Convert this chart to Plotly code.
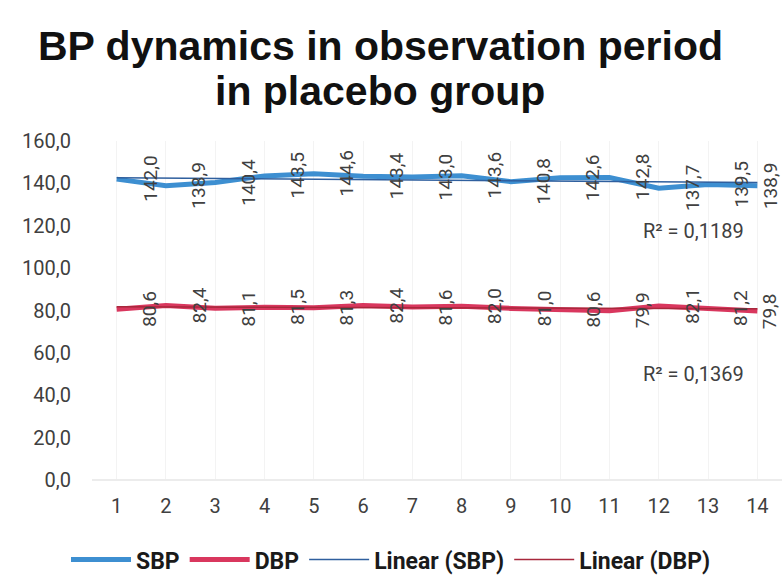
import numpy as np
import plotly.graph_objects as go

# Data
days = list(range(1, 15))
sbp = [142.0, 138.9, 140.4, 143.5, 144.6, 143.4, 143.0, 143.6, 140.8, 142.6, 142.8, 137.7, 139.5, 138.9]
dbp = [80.6, 82.4, 81.1, 81.5, 81.3, 82.4, 81.6, 82.0, 81.0, 80.6, 79.9, 82.1, 81.2, 79.8]
r2_sbp = "R² = 0,1189"
r2_dbp = "R² = 0,1369"
title_lines = ["BP dynamics in observation period", "in placebo group"]

# Linear trends
x = np.array(days)
sbp_fit = np.polyval(np.polyfit(x, sbp, 1), x)
dbp_fit = np.polyval(np.polyfit(x, dbp, 1), x)

fig = go.Figure()
fig.add_trace(go.Scatter(x=days, y=sbp, mode='lines', name='SBP',
                         line=dict(color='#3d8fd1', width=5)))
fig.add_trace(go.Scatter(x=days, y=dbp, mode='lines', name='DBP',
                         line=dict(color='#d9375e', width=5)))
fig.add_trace(go.Scatter(x=days, y=sbp_fit, mode='lines', name='Linear (SBP)',
                         line=dict(color='#2f5f9e', width=1.5)))
fig.add_trace(go.Scatter(x=days, y=dbp_fit, mode='lines', name='Linear (DBP)',
                         line=dict(color='#a8283c', width=1.5)))

# Rotated data labels (last one pulled inside the chart, like Excel does)
label_font = dict(family='Roboto, sans-serif', size=19, color='#404040')
for series in (sbp, dbp):
    for d, v in zip(days, series):
        fig.add_annotation(x=d, y=v, text=f"{v:.1f}".replace('.', ','),
                           textangle=-90, xshift=33 if d < days[-1] else 13,
                           showarrow=False, font=label_font)

r2_font = dict(family='Roboto, sans-serif', size=20, color='#404040')
fig.add_annotation(x=12.7, y=117.5, text=r2_sbp, showarrow=False, font=r2_font)
fig.add_annotation(x=12.7, y=50, text=r2_dbp, showarrow=False, font=r2_font)

# Title as two centred lines
title_font = dict(family='Liberation Sans, Arial, sans-serif', size=41, color='#111111')
for i, line in enumerate(title_lines):
    fig.add_annotation(xref='paper', yref='paper', x=(380 - 92) / 690, y=1,
                       yshift=(141 - 46) - 45 * i, text=f"<b>{line}</b>",
                       showarrow=False, font=title_font, yanchor='middle')

fig.update_layout(
    width=784, height=578,
    margin=dict(l=92, r=2, t=141, b=98, autoexpand=False),
    paper_bgcolor='white', plot_bgcolor='white',
    separators=', ',
    showlegend=True,
    legend=dict(orientation='h', x=(391 - 92) / 690, xanchor='center', y=-0.235, yanchor='middle',
                font=dict(family='Roboto, sans-serif', size=23, color='#1a1a1a', weight='bold'),
                itemwidth=60, tracegroupgap=0),
)
fig.update_xaxes(range=[0.5, 14.5], tickvals=days, showgrid=True, gridcolor='#f3f3f3',
                 zeroline=False, showline=False, ticks='', ticklabelstandoff=12,
                 tickfont=dict(family='Roboto, sans-serif', size=20, color='#404040'))
fig.update_yaxes(range=[0, 160], dtick=20, tickformat='.1f', showgrid=False,
                 zeroline=True, zerolinecolor='#ececec', showline=False, ticks='',
                 ticklabelstandoff=20,
                 tickfont=dict(family='Roboto, sans-serif', size=20, color='#404040'))

fig.write_html("out.html", config={'displayModeBar': False},
               post_script="document.body.style.margin = '0';")
